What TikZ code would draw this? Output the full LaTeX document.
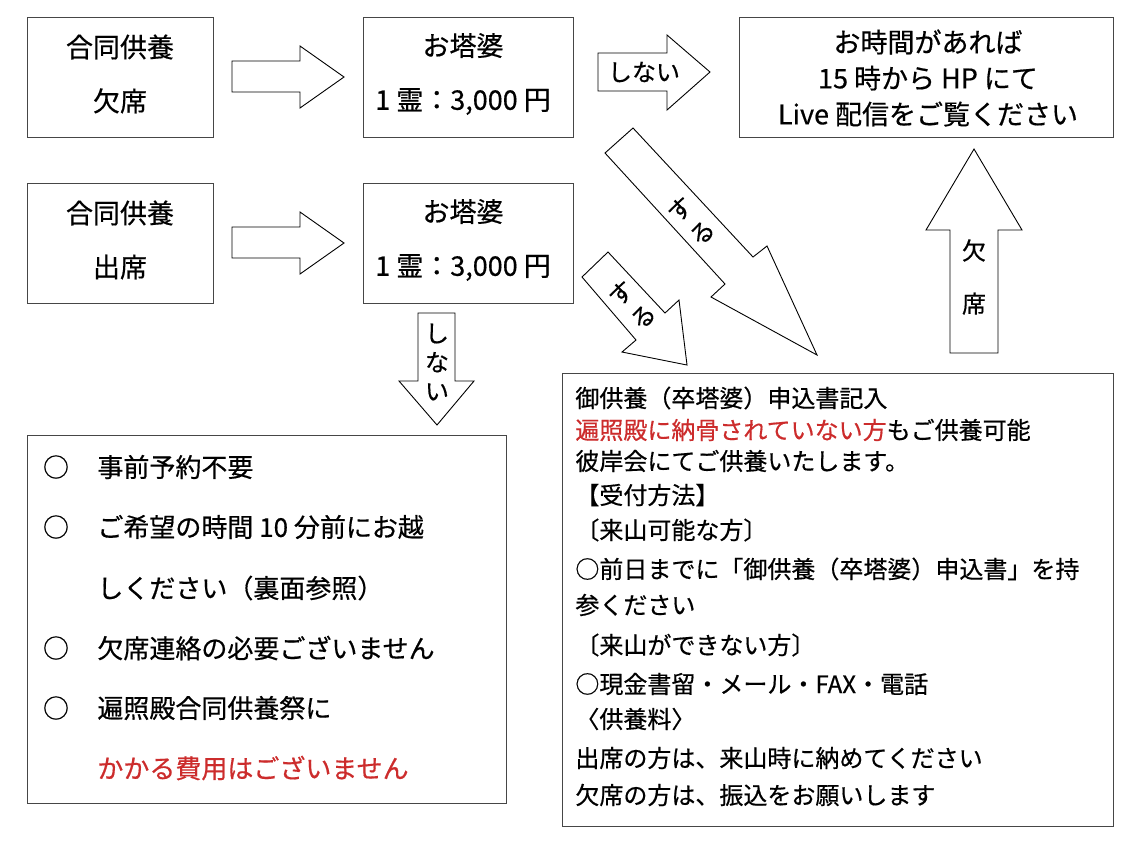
\documentclass[tikz,border=0pt]{standalone}
\usepackage{fontspec}
\setmainfont{Noto Sans CJK JP}[FakeBold=0.5]
\usepackage{xcolor}
\usepackage{tikz}
\definecolor{framegray}{RGB}{70,70,70}
\definecolor{notered}{RGB}{204,44,44}

\tikzset{
  panel/.style={draw=framegray, line width=0.7pt, anchor=north west, inner sep=0pt},
  blockarrow/.style={draw=black, line width=0.45pt, fill=white, line join=miter},
  headtext/.style={font=\fontsize{13.5}{27}\selectfont, align=center, inner sep=0pt},
  arrowtext/.style={font=\fontsize{12}{14.5}\selectfont, align=center, inner sep=0pt},
  notetext/.style={font=\fontsize{13}{15}\selectfont, anchor=west, inner sep=0pt},
  applytext/.style={font=\fontsize{12}{14}\selectfont, anchor=west, inner sep=0pt},
}

\begin{document}
\begin{tikzpicture}[x=0.5pt,y=-0.5pt]
\useasboundingbox (0,0) rectangle (1138,848);
% Draw the boxes
\node[panel, minimum width=93pt, minimum height=60pt] (absentbox) at (27,17) {};
\node[panel, minimum width=105pt, minimum height=60pt] (tobabox1) at (363,17) {};
\node[panel, minimum width=187pt, minimum height=60pt] (livebox) at (739,17) {};
\node[panel, minimum width=93pt, minimum height=60pt] (presentbox) at (27,183) {};
\node[panel, minimum width=105pt, minimum height=60pt] (tobabox2) at (363,183) {};
\node[panel, minimum width=239.5pt, minimum height=184pt] (notebox) at (27,435) {};
\node[panel, minimum width=275.5pt, minimum height=226.5pt] (applybox) at (562,373) {};
% Texts of the upper boxes
\node[headtext] (absentlabel) at (120,74) {合同供養\\欠席};
\node[headtext] (toba1label) at (463,74) {お塔婆\\1 霊：3,000 円};
\node[headtext, font=\fontsize{13.5}{18}\selectfont] (livelabel) at (928,78) {お時間があれば\\15 時から HP にて\\Live 配信をご覧ください};
\node[headtext] (presentlabel) at (120,240) {合同供養\\出席};
\node[headtext] (toba2label) at (463,240) {お塔婆\\1 霊：3,000 円};
% Draw the block arrows
\draw[blockarrow] (232,61) -- (300,61) -- (300,46) -- (344,77) -- (300,108) -- (300,92) -- (232,92) -- cycle;
\draw[blockarrow] (232,227) -- (300,227) -- (300,212) -- (344,243) -- (300,274) -- (300,258) -- (232,258) -- cycle;
\draw[blockarrow] (598,53) -- (667,53) -- (667,35) -- (710,72) -- (667,110) -- (667,91) -- (598,91) -- cycle;
\draw[blockarrow] (633,128) -- (753,257) -- (767,246) -- (817,355) -- (711,297) -- (725,284) -- (605,153) -- cycle;
\draw[blockarrow] (608,252) -- (665,313) -- (679,300) -- (687,365) -- (622,352) -- (636,340) -- (582,277) -- cycle;
\draw[blockarrow] (950,353) -- (950,230) -- (926,230) -- (974,149) -- (1022,230) -- (998,230) -- (998,353) -- cycle;
\draw[blockarrow] (418,313) -- (455,313) -- (455,381) -- (474,381) -- (437,425) -- (399,381) -- (418,381) -- cycle;
% Arrow labels
\node[arrowtext] (nottop) at (644,72) {しない};
\node[arrowtext] (notdown) at (437,362) {し\\な\\い};
\node[arrowtext, font=\fontsize{12}{26.5}\selectfont] (absentup) at (974,277) {欠\\席};
\node[arrowtext, font=\fontsize{12}{16}\selectfont, rotate=43] (dobig) at (691,221) {す\\る};
\node[arrowtext, font=\fontsize{12}{16}\selectfont, rotate=43] (dosmall) at (632,305) {す\\る};
% Notes in the left box
\foreach \y in {467,527,648,708}
  \node[notetext, anchor=center] (mark\y) at (56,\y) {○};
\foreach \y/\t in {467/{事前予約不要}, 527/{ご希望の時間 10 分前にお越}, 588/{しください（裏面参照）},
    648/{欠席連絡の必要ございません}, 708/{遍照殿合同供養祭に}, 768/{\textcolor{notered}{かかる費用はございません}}}
  \node[notetext] (note\y) at (97,\y) {\t};
% Texts of the application box
\foreach \y/\t in {398/{御供養（卒塔婆）申込書記入},
    430/{\textcolor{notered}{遍照殿に納骨されていない方}もご供養可能},
    461/{彼岸会にてご供養いたします。},
    495/{【受付方法】},
    530/{〔来山可能な方〕},
    569/{○前日までに「御供養（卒塔婆）申込書」を持},
    605/{参ください},
    645/{〔来山ができない方〕},
    684/{○現金書留・メール・FAX・電話},
    719/{〈供養料〉},
    758/{出席の方は、来山時に納めてください},
    795/{欠席の方は、振込をお願いします}}
  \node[applytext] (apply\y) at (575,\y) {\t};
\end{tikzpicture}
\end{document}
